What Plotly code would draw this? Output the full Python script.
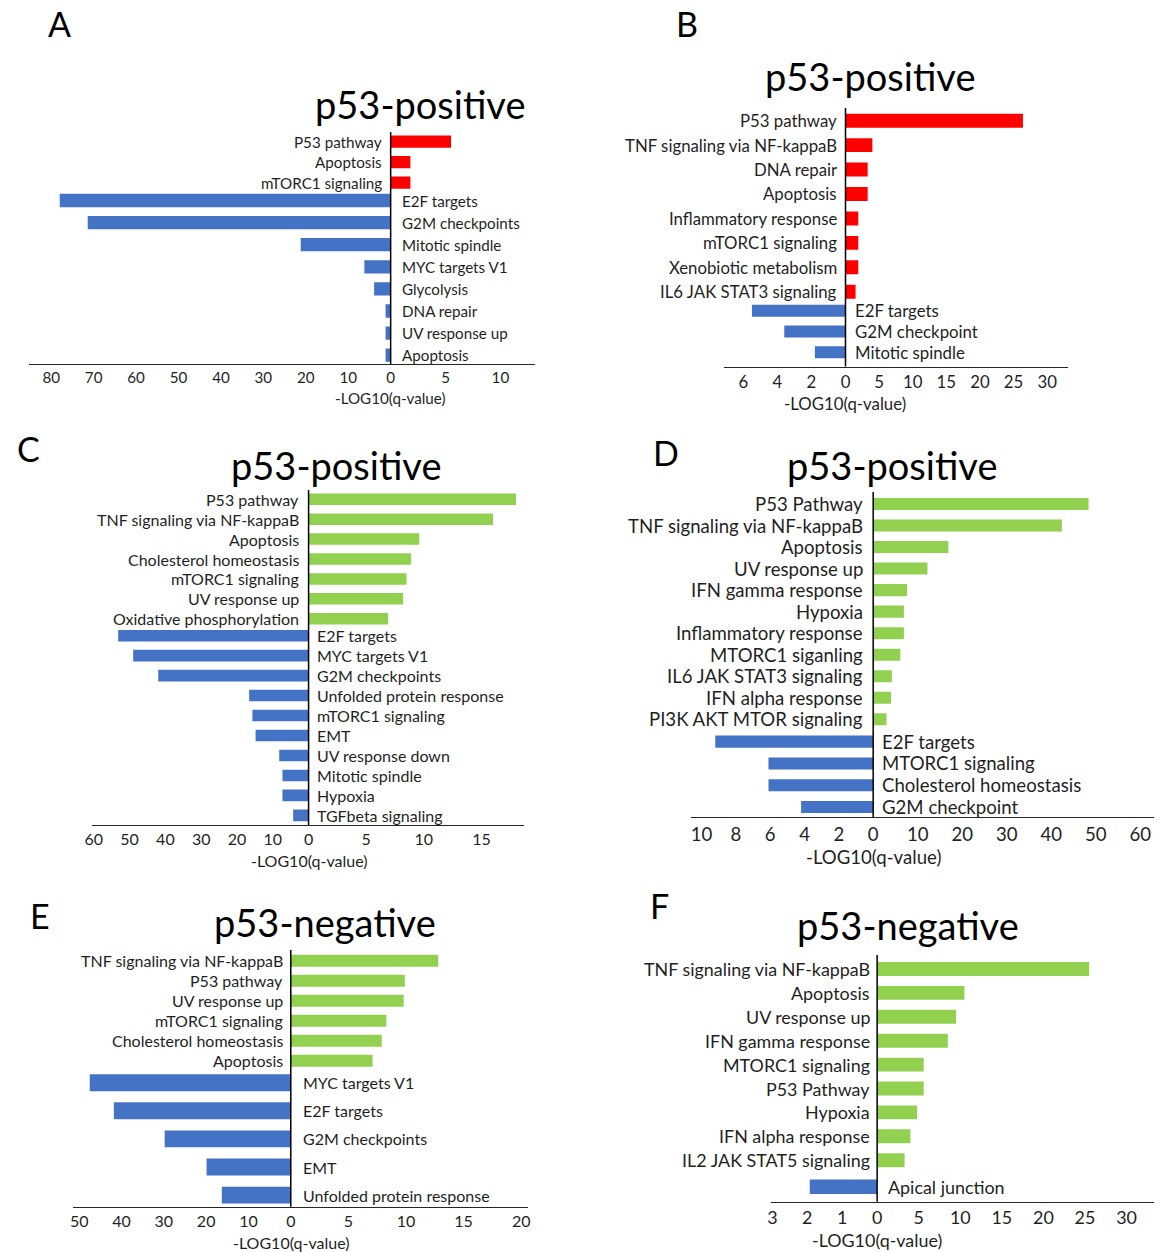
import plotly.graph_objects as go

W, H = 1160, 1252
OFF = 0  # body margin is removed by the post_script below
FONT = "Lato"
RED, BLUE, GREEN = "#FF0000", "#4472C4", "#92D050"
TXT = "#1f1f1f"

# ------------------------- data -------------------------
A_up_labels = ["P53 pathway", "Apoptosis", "mTORC1 signaling"]
A_up_values = [5.5, 1.8, 1.8]
A_down_labels = ["E2F targets", "G2M checkpoints", "Mitotic spindle", "MYC targets V1",
                 "Glycolysis", "DNA repair", "UV response up", "Apoptosis"]
A_down_values = [78, 71.4, 21.2, 6.2, 3.9, 1.2, 1.2, 1.2]
A_left_ticks = [80, 70, 60, 50, 40, 30, 20, 10, 0]
A_right_ticks = [5, 10]

B_up_labels = ["P53 pathway", "TNF signaling via NF-kappaB", "DNA repair", "Apoptosis",
               "Inflammatory response", "mTORC1 signaling", "Xenobiotic metabolism",
               "IL6 JAK STAT3 signaling"]
B_up_values = [26.4, 4.0, 3.3, 3.3, 1.9, 1.9, 1.9, 1.5]
B_down_labels = ["E2F targets", "G2M checkpoint", "Mitotic spindle"]
B_down_values = [5.5, 3.6, 1.8]
B_left_ticks = [6, 4, 2, 0]
B_right_ticks = [5, 10, 15, 20, 25, 30]

C_up_labels = ["P53 pathway", "TNF signaling via NF-kappaB", "Apoptosis",
               "Cholesterol homeostasis", "mTORC1 signaling", "UV response up",
               "Oxidative phosphorylation"]
C_up_values = [18.0, 16.0, 9.6, 8.9, 8.5, 8.2, 6.9]
C_down_labels = ["E2F targets", "MYC targets V1", "G2M checkpoints", "Unfolded protein response",
                 "mTORC1 signaling", "EMT", "UV response down", "Mitotic spindle", "Hypoxia",
                 "TGFbeta signaling"]
C_down_values = [53.2, 49.0, 42.0, 16.6, 15.7, 14.8, 8.2, 7.3, 7.3, 4.3]
C_left_ticks = [60, 50, 40, 30, 20, 10, 0]
C_right_ticks = [5, 10, 15]

D_up_labels = ["P53 Pathway", "TNF signaling via NF-kappaB", "Apoptosis", "UV response up",
               "IFN gamma response", "Hypoxia", "Inflammatory response", "MTORC1 siganling",
               "IL6 JAK STAT3 signaling", "IFN alpha response", "PI3K AKT MTOR signaling"]
D_up_values = [48.4, 42.4, 16.9, 12.2, 7.6, 6.9, 6.9, 6.1, 4.2, 4.0, 3.0]
D_down_labels = ["E2F targets", "MTORC1 signaling", "Cholesterol homeostasis", "G2M checkpoint"]
D_down_values = [9.2, 6.1, 6.1, 4.2]
D_left_ticks = [10, 8, 6, 4, 2, 0]
D_right_ticks = [10, 20, 30, 40, 50, 60]

E_up_labels = ["TNF signaling via NF-kappaB", "P53 pathway", "UV response up",
               "mTORC1 signaling", "Cholesterol homeostasis", "Apoptosis"]
E_up_values = [12.8, 9.9, 9.8, 8.3, 7.9, 7.1]
E_down_labels = ["MYC targets V1", "E2F targets", "G2M checkpoints", "EMT",
                 "Unfolded protein response"]
E_down_values = [47.5, 41.8, 29.8, 19.9, 16.3]
E_left_ticks = [50, 40, 30, 20, 10, 0]
E_right_ticks = [5, 10, 15, 20]

F_up_labels = ["TNF signaling via NF-kappaB", "Apoptosis", "UV response up",
               "IFN gamma response", "MTORC1 signaling", "P53 Pathway", "Hypoxia",
               "IFN alpha response", "IL2 JAK STAT5 signaling"]
F_up_values = [25.5, 10.5, 9.5, 8.5, 5.6, 5.6, 4.8, 4.0, 3.3]
F_down_labels = ["Apical junction"]
F_down_values = [1.93]
F_left_ticks = [3, 2, 1, 0]
F_right_ticks = [5, 10, 15, 20, 25, 30]

AXIS_TITLE = "-LOG10(q-value)"

# ------------------------- layout specs (page pixels) -------------------------
panels = [
    dict(letter="A", title="p53-positive", ul=A_up_labels, uv=A_up_values, uc=RED,
         dl=A_down_labels, dv=A_down_values, lt=A_left_ticks, rt=A_right_ticks,
         zx=388, ay=364, xl=22, xr=534, lmax=85.3, rmax=13.15,
         uy0=141.7, udy=20.5, dy0=200.5, ddy=22.1, uw=0.6, dw=0.6, ztop=132,
         fs=15.2, tpos=(418, 104), lpos=(53, 23), atdy=34, gl=7, gr=9),
    dict(letter="B", title="p53-positive", ul=B_up_labels, uv=B_up_values, uc=RED,
         dl=B_down_labels, dv=B_down_values, lt=B_left_ticks, rt=B_right_ticks,
         zx=848, ay=366.5, xl=725, xr=1073, lmax=7.15, rmax=33.1,
         uy0=120.7, udy=24.43, dy0=310.7, ddy=20.8, uw=0.57, dw=0.58, ztop=108,
         fs=16.8, tpos=(873, 76), lpos=(688, 23), atdy=37, gl=6, gr=8),
    dict(letter="C", title="p53-positive", ul=C_up_labels, uv=C_up_values, uc=GREEN,
         dl=C_down_labels, dv=C_down_values, lt=C_left_ticks, rt=C_right_ticks,
         zx=305, ay=825, xl=86, xr=523, lmax=60.5, rmax=18.7,
         uy0=499.3, udy=19.9, dy0=635.7, ddy=19.96, uw=0.58, dw=0.58, ztop=490,
         fs=16.0, tpos=(333, 465), lpos=(22, 448), atdy=35, gl=8, gr=6),
    dict(letter="D", title="p53-positive", ul=D_up_labels, uv=D_up_values, uc=GREEN,
         dl=D_down_labels, dv=D_down_values, lt=D_left_ticks, rt=D_right_ticks,
         zx=876, ay=817, xl=692, xr=1160, lmax=10.6, rmax=63.1,
         uy0=504, udy=21.53, dy0=741.7, ddy=21.77, uw=0.56, dw=0.56, ztop=492,
         fs=18.6, tpos=(895, 465), lpos=(666, 452), atdy=40, gl=8, gr=7),
    dict(letter="E", title="p53-negative", ul=E_up_labels, uv=E_up_values, uc=GREEN,
         dl=E_down_labels, dv=E_down_values, lt=E_left_ticks, rt=E_right_ticks,
         zx=287, ay=1206.7, xl=67, xr=527, lmax=51.4, rmax=20.6,
         uy0=960.7, udy=20, dy0=1082.7, ddy=28.1, uw=0.6, dw=0.6, ztop=950,
         fs=16.0, tpos=(322, 922), lpos=(33, 915), atdy=36, gl=6, gr=10),
    dict(letter="F", title="p53-negative", ul=F_up_labels, uv=F_up_values, uc=GREEN,
         dl=F_down_labels, dv=F_down_values, lt=F_left_ticks, rt=F_right_ticks,
         zx=880, ay=1201.7, xl=773, xr=1160, lmax=3.03, rmax=33.3,
         uy0=969, udy=23.9, dy0=1186.7, ddy=24, uw=0.58, dw=0.6, ztop=955,
         fs=17.9, tpos=(911, 925), lpos=(660, 905), atdy=38, gl=5, gr=9),
]


def px(x):
    return (x - OFF) / W


def py(y):
    return 1 - (y - OFF) / H


def sx(i):
    return "x" if i == 1 else f"x{i}"


def sy(i):
    return "y" if i == 1 else f"y{i}"


def kx(i):
    return "xaxis" if i == 1 else f"xaxis{i}"


def ky(i):
    return "yaxis" if i == 1 else f"yaxis{i}"


fig = go.Figure()
layout = {}
annotations = []
shapes = []

for k, p in enumerate(panels):
    il, ir = 2 * k + 1, 2 * k + 2       # x axes: left (down-regulated), right (up-regulated)
    iu, idn = 2 * k + 1, 2 * k + 2      # y axes: upper section, lower section

    nu, nd = len(p["ul"]), len(p["dl"])
    fig.add_trace(go.Bar(x=p["uv"], y=list(range(nu)), orientation="h", width=p["uw"],
                         marker=dict(color=p["uc"], line=dict(width=0)),
                         xaxis=sx(ir), yaxis=sy(iu), showlegend=False, hoverinfo="x"))
    fig.add_trace(go.Bar(x=p["dv"], y=list(range(nd)), orientation="h", width=p["dw"],
                         marker=dict(color=BLUE, line=dict(width=0)),
                         xaxis=sx(il), yaxis=sy(idn), showlegend=False, hoverinfo="x"))

    tickfont = dict(family=FONT, size=p["fs"], color=TXT)
    common_x = dict(anchor="free", position=py(p["ay"]), showgrid=False, zeroline=False,
                    showline=True, linecolor="#262626", linewidth=1.4, ticks="",
                    tickfont=tickfont, fixedrange=True)
    layout[kx(il)] = dict(domain=[px(p["xl"]), px(p["zx"])], range=[p["lmax"], 0],
                          tickvals=p["lt"], ticktext=[str(v) for v in p["lt"]], **common_x)
    xr_end = min(1.0, px(p["xr"]))
    r_end = p["rmax"] * (xr_end - px(p["zx"])) / (px(p["xr"]) - px(p["zx"]))
    layout[kx(ir)] = dict(domain=[px(p["zx"]), xr_end], range=[0, r_end],
                          tickvals=p["rt"], ticktext=[str(v) for v in p["rt"]], **common_x)

    top_u = p["uy0"] - p["udy"] / 2
    bot_u = p["uy0"] + (nu - 0.5) * p["udy"]
    top_d = p["dy0"] - p["ddy"] / 2
    bot_d = p["dy0"] + (nd - 0.5) * p["ddy"]
    common_y = dict(anchor="free", position=0, visible=False, showgrid=False,
                    zeroline=False, fixedrange=True)
    layout[ky(iu)] = dict(domain=[py(bot_u), py(top_u)], range=[nu - 0.5, -0.5], **common_y)
    layout[ky(idn)] = dict(domain=[py(bot_d), py(top_d)], range=[nd - 0.5, -0.5], **common_y)

    lab_font = dict(family=FONT, size=p["fs"], color=TXT)
    for i, t in enumerate(p["ul"]):
        annotations.append(dict(x=0, y=i, xref=sx(ir), yref=sy(iu), text=t, showarrow=False,
                                xanchor="right", yanchor="middle", xshift=-p["gl"],
                                font=lab_font))
    for i, t in enumerate(p["dl"]):
        annotations.append(dict(x=0, y=i, xref=sx(il), yref=sy(idn), text=t, showarrow=False,
                                xanchor="left", yanchor="middle", xshift=p["gr"],
                                font=lab_font))

    # zero line
    shapes.append(dict(type="line", xref="paper", yref="paper",
                       x0=px(p["zx"]), x1=px(p["zx"]), y0=py(p["ay"]), y1=py(p["ztop"]),
                       line=dict(color="#000000", width=1.5)))
    # axis title
    annotations.append(dict(x=px(p["zx"]), y=py(p["ay"] + p["atdy"]), xref="paper", yref="paper",
                            text=AXIS_TITLE, showarrow=False, xanchor="center", yanchor="middle",
                            font=lab_font))
    # panel title
    annotations.append(dict(x=px(p["tpos"][0]), y=py(p["tpos"][1]), xref="paper", yref="paper",
                            text=p["title"], showarrow=False, xanchor="center", yanchor="middle",
                            font=dict(family=FONT, size=38, color="#000000")))
    # panel letter
    annotations.append(dict(x=px(p["lpos"][0]), y=py(p["lpos"][1]), xref="paper", yref="paper",
                            text=p["letter"], showarrow=False, xanchor="center", yanchor="middle",
                            font=dict(family=FONT, size=34, color="#000000")))

fig.update_layout(width=W, height=H, margin=dict(l=0, r=0, t=0, b=0),
                  paper_bgcolor="white", plot_bgcolor="rgba(0,0,0,0)",
                  annotations=annotations, shapes=shapes, barmode="overlay",
                  font=dict(family=FONT, color=TXT), **layout)

fig.write_html("out.html", config={"displayModeBar": False},
               post_script="document.body.style.margin='0';document.body.style.overflow='hidden';")
